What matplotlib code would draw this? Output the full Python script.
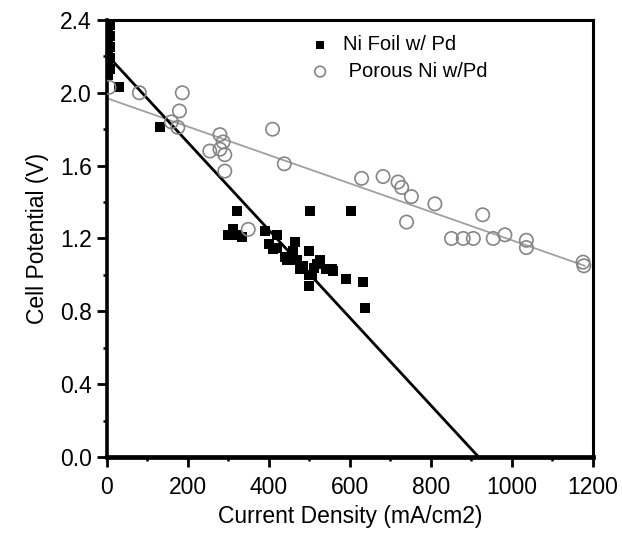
import matplotlib.pyplot as plt
from matplotlib.ticker import MultipleLocator

plt.rcParams['font.family'] = ['Liberation Sans', 'DejaVu Sans']

# Ni foil w/ Pd (filled squares)
foil_x = [3, 8, 3, 8, 3, 8, 3, 8, 3, 8, 3, 30, 131,
          300, 312, 322, 333, 321, 502, 603,
          390, 421, 464, 498, 526, 555, 591, 632, 638, 498,
          411, 444, 477, 506, 500, 512, 440, 460, 470, 400,
          420, 485, 520, 540, 559]
foil_y = [2.40, 2.37, 2.34, 2.31, 2.28, 2.25, 2.22, 2.19, 2.16, 2.13, 2.10, 2.03, 1.81,
          1.22, 1.25, 1.22, 1.21, 1.35, 1.35, 1.35,
          1.24, 1.22, 1.18, 1.13, 1.08, 1.03, 0.98, 0.96, 0.82, 0.94,
          1.14, 1.08, 1.03, 1.00, 1.00, 1.04, 1.10, 1.13, 1.08, 1.17,
          1.15, 1.05, 1.06, 1.03, 1.02]

# Porous Ni w/ Pd (open circles)
porous_x = [5, 80, 186, 179, 159, 175, 279, 287, 254, 279, 291, 291,
            409, 438, 349, 629, 682, 719, 728, 752, 810, 740,
            928, 851, 880, 905, 954, 983, 1036, 1036, 1176, 1178]
porous_y = [2.03, 2.00, 2.00, 1.90, 1.84, 1.81, 1.77, 1.73, 1.68, 1.69, 1.66, 1.57,
            1.80, 1.61, 1.25, 1.53, 1.54, 1.51, 1.48, 1.43, 1.39, 1.29,
            1.33, 1.20, 1.20, 1.20, 1.20, 1.22, 1.19, 1.15, 1.07, 1.05]

# linear fits (end points)
foil_fit_x = [20, 918]
foil_fit_y = [2.16, 0.0]
porous_fit_x = [0, 1180]
porous_fit_y = [1.97, 1.05]

fig = plt.figure(figsize=(6.22, 5.33), dpi=100)
ax = fig.add_axes([0.172, 0.1426, 0.781, 0.820])

ax.plot(porous_fit_x, porous_fit_y, color='#a0a0a0', lw=1.3, zorder=1)
ax.plot(foil_fit_x, foil_fit_y, color='black', lw=2.0, zorder=2)
ax.scatter(foil_x, foil_y, marker='s', s=52, color='black', lw=0,
           label='Ni Foil w/ Pd', zorder=3)
ax.scatter(porous_x, porous_y, marker='o', s=92, facecolors='none',
           edgecolors='#858585', linewidths=1.2, label=' Porous Ni w/Pd', zorder=4)

ax.set_xlim(0, 1200)
ax.set_ylim(0, 2.4)
ax.xaxis.set_major_locator(MultipleLocator(200))
ax.xaxis.set_minor_locator(MultipleLocator(100))
ax.yaxis.set_major_locator(MultipleLocator(0.4))
ax.yaxis.set_minor_locator(MultipleLocator(0.2))
ax.yaxis.set_major_formatter(plt.FormatStrFormatter('%.1f'))
ax.spines['bottom'].set_linewidth(3.4)
ax.spines['left'].set_linewidth(2.6)
ax.spines['top'].set_linewidth(2.2)
ax.spines['right'].set_linewidth(2.2)
ax.tick_params(which='major', direction='out', length=7, width=2, labelsize=16.5, pad=4)
ax.tick_params(axis='x', which='major', pad=7)
ax.tick_params(which='minor', direction='out', length=3, width=1.8)

ax.set_xlabel('Current Density (mA/cm2)', fontsize=16.5, labelpad=4)
ax.set_ylabel('Cell Potential (V)', fontsize=16.5, labelpad=8)

leg = ax.legend(loc='upper left', bbox_to_anchor=(0.418, 0.966), frameon=False,
                fontsize=14.5, handlelength=1.0, handletextpad=0.65,
                labelspacing=0.4, borderpad=0, borderaxespad=0,
                markerscale=0.8)

fig.savefig('out.png', dpi=100)
